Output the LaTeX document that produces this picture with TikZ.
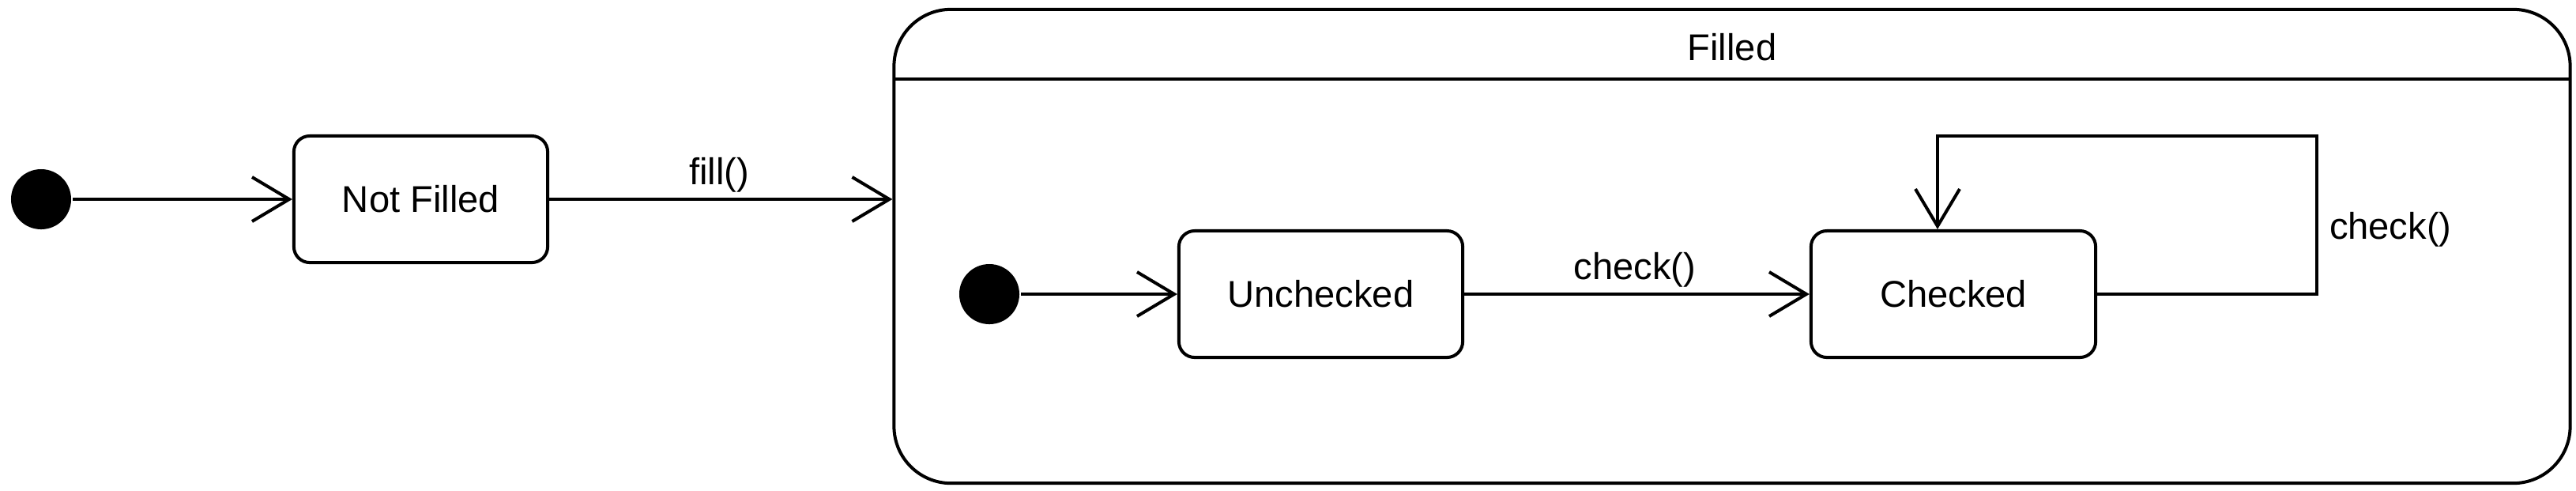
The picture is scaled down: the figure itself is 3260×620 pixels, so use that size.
\documentclass[tikz,border=0pt]{standalone}
\usepackage{fontspec}
\setmainfont{Liberation Sans}
\usetikzlibrary{arrows.meta}
\begin{document}
\begin{tikzpicture}[x=0.01cm, y=-0.01cm, line width=0.04cm,
  every node/.append style={font=\fontsize{13.4pt}{16pt}\selectfont},
  stbox/.style={draw, rounded corners=0.2cm, minimum height=1.6cm, inner sep=0},
  startdot/.style={circle, fill=black, minimum size=0.76cm, inner sep=0},
  tr/.style={-{Straight Barb[length=0.47cm, width=0.56cm]}},
  lbl/.style={anchor=base, inner sep=0}]
\useasboundingbox (0,0) rectangle (3260,620);
\node[startdot] (i1) at (52,252) {};
\node[stbox, minimum width=3.21cm] (nf) at (532.5,252) {Not Filled};
\node[draw, rounded corners=0.72cm, minimum width=21.2cm, minimum height=5.99cm, inner sep=0] (fl) at (2192,311.5) {};
\node (flt) at (2192,60) {Filled};
\coordinate (hl) at (1132,100);
\coordinate (hr) at (3252,100);
\draw (hl) -- (hr);
\node[startdot] (i2) at (1252,372) {};
\node[stbox, minimum width=3.59cm] (un) at (1671.5,372) {Unchecked};
\node[stbox, minimum width=3.6cm] (ck) at (2472,372) {Checked};
\draw[tr] (i1) -- (nf);
\draw[tr] (nf.east) -- (nf.east -| fl.west);
\node[lbl] (lf) at (910,233) {fill()};
\draw[tr] (i2) -- (un);
\draw[tr] (un) -- (ck);
\node[lbl] (lc1) at (2069,353) {check()};
\coordinate (lp1) at (2932,172);
\draw[tr] (ck.east) -| (lp1) -| ([xshift=-0.2cm]ck.north);
\node[lbl, anchor=base west] (lc2) at (2946,302) {check()};
\end{tikzpicture}
\end{document}
